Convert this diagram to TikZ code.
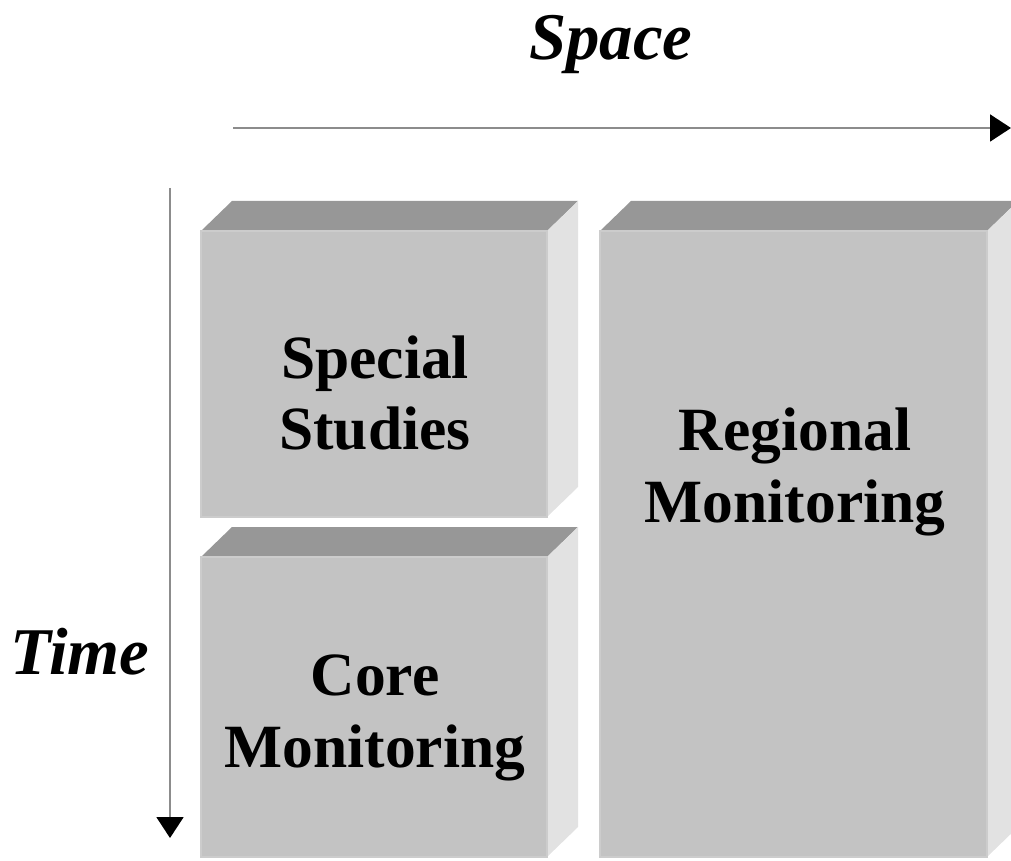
\documentclass[tikz,border=0pt]{standalone}
\usepackage{fontspec}
\setmainfont{Liberation Serif}
\usetikzlibrary{arrows.meta}

\definecolor{frontgray}{RGB}{195,195,195}
\definecolor{topgray}{RGB}{151,151,151}
\definecolor{sidegray}{RGB}{226,226,226}
\definecolor{axisgray}{RGB}{140,140,140}

\begin{document}
\begin{tikzpicture}[x=0.02cm,y=-0.02cm,
        front/.style={fill=frontgray,draw=frontgray!85!white,line width=0.8pt},
        topface/.style={fill=topgray},
        sideface/.style={fill=sidegray},
        axis/.style={draw=axisgray,line width=1.1pt,-{Triangle[color=black,length=0.42cm,width=0.54cm]}},
        boxlabel/.style={align=center,font=\fontsize{35}{40.5}\selectfont\bfseries},
        axislabel/.style={font=\fontsize{38}{40}\selectfont\bfseries\itshape}]
        \useasboundingbox (0,0) rectangle (1011,861);
        % the three blocks: x1/y1/x2/y2 of the front face
        \foreach \xa/\ya/\xb/\yb in {201/231/547/517, 201/557/547/857, 600/231/987/857}{
            \fill[topface] (\xa,\ya) -- (\xa+31,\ya-30) -- (\xb+31,\ya-30) -- (\xb,\ya) -- cycle;
            \fill[sideface] (\xb,\ya) -- (\xb+31,\ya-30) -- (\xb+31,\yb-30) -- (\xb,\yb) -- cycle;
            \filldraw[front] (\xa,\ya) rectangle (\xb,\yb);
        }
        \node[boxlabel] (special) at (375,393) {Special\\Studies};
        \node[boxlabel] (core) at (375,718) {Core\\Monitoring};
        \node[boxlabel] (regional) at (795,472) {Regional\\Monitoring};

        \node[axislabel] (space) at (611,45) {Space};
        \node[axislabel] (time) at (80,652) {Time};
        \coordinate (hstart) at (233,128);
        \coordinate (hend) at (1011,128);
        \coordinate (vstart) at (170,188);
        \coordinate (vend) at (170,838);
        \draw[axis] (hstart) -- (hend);
        \draw[axis] (vstart) -- (vend);
\end{tikzpicture}
\end{document}
